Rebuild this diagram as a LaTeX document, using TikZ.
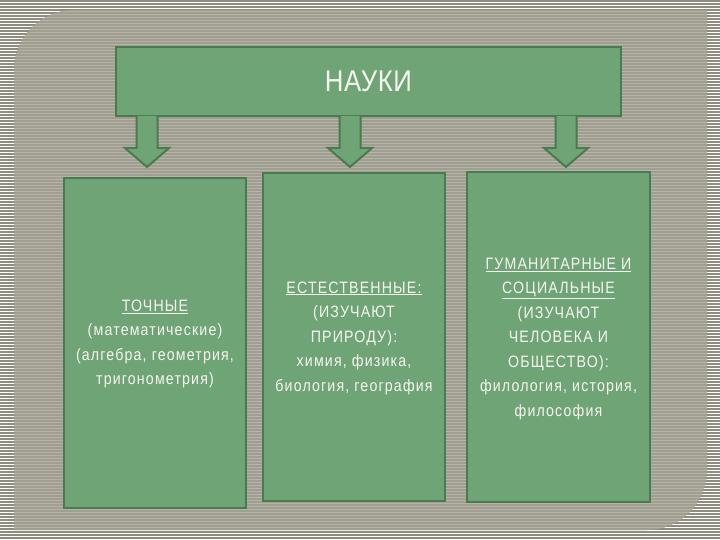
\documentclass[tikz,border=0pt]{standalone}
\usepackage{fontspec}
\setmainfont{Liberation Sans}
\newfontfamily\narrowfont[FakeStretch=0.86, LetterSpace=7]{Liberation Sans}
\newfontfamily\titlefont[FakeStretch=0.86, LetterSpace=2]{Liberation Sans}
\usetikzlibrary{calc}
\definecolor{boxfill}{HTML}{6FA476}
\definecolor{boxline}{HTML}{4A7A50}
\definecolor{panelc}{HTML}{A09E90}
\definecolor{panelstripe}{HTML}{B6B4A7}
\definecolor{outstripe}{HTML}{8E8C7F}
\definecolor{txt}{HTML}{F6F6EE}
\tikzset{
  greenbox/.style={draw=boxline, line width=2.5pt, fill=boxfill, inner sep=0pt},
  blockarrow/.style={draw=boxline, line width=2pt, fill=boxfill, line join=miter},
  boxtext/.style={text=txt, align=center, font=\narrowfont\fontsize{16.5}{24.5}\selectfont},
}
\begin{document}
\begin{tikzpicture}[x=1pt,y=-1pt]
\useasboundingbox (0,0) rectangle (720,540);
% outer stripes
\fill[white] (0,0) rectangle (720,540);
\foreach \y in {0,3,...,540} \draw[outstripe, line width=1.6pt] (0,\y+1) -- (720,\y+1);
% panel
\def\panelpath{(14,530) -- (14,70) .. controls (14,37) and (41,10) .. (74,10) -- (707,10) -- (707,470) .. controls (707,503) and (680,530) .. (647,530) -- cycle}
\fill[panelc] \panelpath;
\begin{scope}
\clip \panelpath;
\foreach \y in {0,3,...,540} \draw[panelstripe, line width=0.9pt] (0,\y+2) -- (720,\y+2);
\end{scope}
% top box
\node[greenbox, minimum width=505pt, minimum height=69pt] (nauki) at (368.5,81.5) {};
\node[text=txt, font=\titlefont\fontsize{30}{32}\selectfont] (naukit) at (nauki.center) {НАУКИ};
% arrows
\foreach \cx/\nm in {147/a1, 350/a2, 566/a3}{
  \coordinate (\nm) at (\cx,116);
  \draw[blockarrow] ($(\nm)+(-10.5,0)$) -- ($(\nm)+(-10.5,32)$) -- ($(\nm)+(-22,32)$) -- ($(\nm)+(0,51)$) -- ($(\nm)+(22,32)$) -- ($(\nm)+(10.5,32)$) -- ($(\nm)+(10.5,0)$);
}
% lower boxes
\node[greenbox, minimum width=182pt, minimum height=330pt] (left) at (155,343) {};
\node[greenbox, minimum width=182pt, minimum height=328pt] (mid) at (354,337) {};
\node[greenbox, minimum width=183pt, minimum height=330pt] (right) at (558.5,337) {};
% texts
\node[boxtext] (lt) at (155,344) {\underline{ТОЧНЫЕ}\\(математические)\\(алгебра, геометрия,\\тригонометрия)};
\node[boxtext] (mt) at (354,338) {\underline{ЕСТЕСТВЕННЫЕ:}\\(ИЗУЧАЮТ\\ПРИРОДУ):\\химия, физика,\\биология, география};
\node[boxtext] (rt) at (558.5,339) {\underline{ГУМАНИТАРНЫЕ И}\\\underline{СОЦИАЛЬНЫЕ}\\(ИЗУЧАЮТ\\ЧЕЛОВЕКА И\\ОБЩЕСТВО):\\филология, история,\\философия};
\end{tikzpicture}
\end{document}
